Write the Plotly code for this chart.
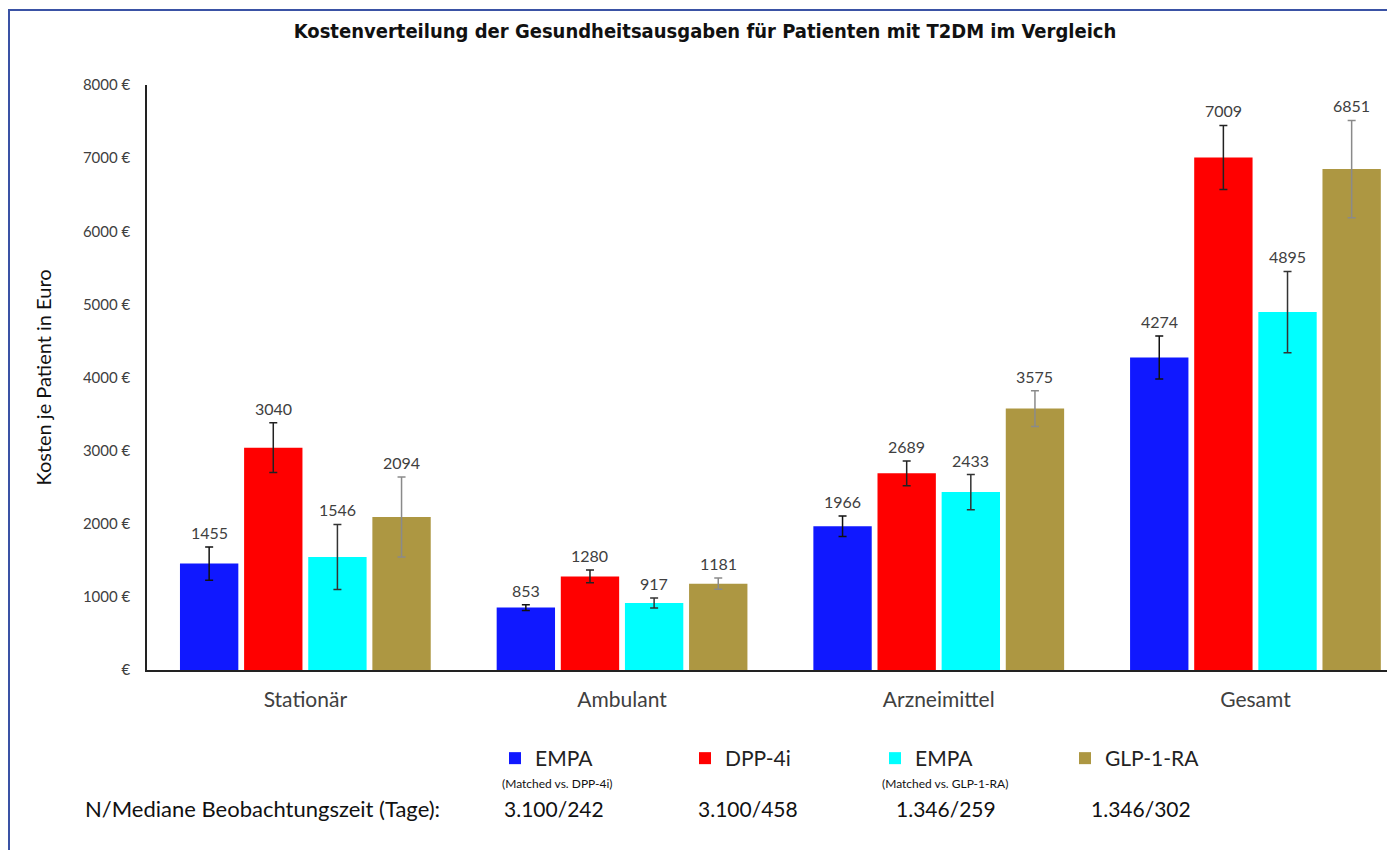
import plotly.graph_objects as go

categories = ["Stationär", "Ambulant", "Arzneimittel", "Gesamt"]
series_names = ["EMPA", "DPP-4i", "EMPA", "GLP-1-RA"]
series_sub = ["(Matched vs. DPP-4i)", "", "(Matched vs. GLP-1-RA)", ""]
empa_dpp = [1455, 853, 1966, 4274]
dpp4i = [3040, 1280, 2689, 7009]
empa_glp = [1546, 917, 2433, 4895]
glp1ra = [2094, 1181, 3575, 6851]
err_empa_dpp = [226, 39, 140, 295]
err_dpp4i = [340, 87, 170, 438]
err_empa_glp = [445, 68, 240, 555]
err_glp1ra = [547, 78, 245, 665]
n_labels = ["3.100/242", "3.100/458", "1.346/259", "1.346/302"]
y_ticks = [0, 1000, 2000, 3000, 4000, 5000, 6000, 7000, 8000]
y_ticktext = ["€"] + [f"{v} €" for v in y_ticks[1:]]

values = [empa_dpp, dpp4i, empa_glp, glp1ra]
errors = [err_empa_dpp, err_dpp4i, err_empa_glp, err_glp1ra]
colors = ["#1018FF", "#FF0000", "#00FFFF", "#AD9742"]
err_colors = ["#111111", "#222222", "#333333", "#8a8a8a"]

W, H = 1395, 850
OFF = 8  # page body margin
ML, MR, MT, MB = 139, 10, 77, 188
PW, PH = W - ML - MR, H - MT - MB
BARGAP = 0.19
FONT = "Lato, 'Open Sans', sans-serif"


def px_x(px):
    return (px - OFF - ML) / PW


def px_y(py):
    return (H - MB - (py - OFF)) / PH


fig = go.Figure()
for i in range(4):
    fig.add_trace(go.Bar(
        x=categories, y=values[i], name=series_names[i],
        marker=dict(color=colors[i], line=dict(width=0)),
        error_y=dict(type="data", array=errors[i], visible=True,
                     color=err_colors[i], thickness=1.5, width=4),
    ))

annotations = []
slot = (1 - BARGAP) / 4
for i in range(4):
    for j in range(4):
        xpos = j - (1 - BARGAP) / 2 + slot * (i + 0.5)
        annotations.append(dict(
            x=xpos, y=values[i][j] + errors[i][j], xref="x", yref="y",
            text=str(values[i][j]), showarrow=False, yanchor="bottom",
            yshift=3, font=dict(family=FONT, size=16, color="#404040"),
        ))

sub_x = [557, None, 945, None]
for i, s in enumerate(series_sub):
    if s:
        annotations.append(dict(
            x=px_x(sub_x[i]), y=px_y(783), xref="paper", yref="paper",
            text=s, showarrow=False, xanchor="center", yanchor="middle",
            font=dict(family="'Liberation Sans Narrow', " + FONT, size=12, color="#111111"),
        ))

annotations.append(dict(
    x=px_x(262), y=px_y(808), xref="paper", yref="paper",
    text="N/Mediane Beobachtungszeit (Tage):", showarrow=False,
    xanchor="center", yanchor="middle",
    font=dict(family=FONT, size=22, color="#111111"),
))
n_x = [554, 748, 946, 1141]
for i, t in enumerate(n_labels):
    annotations.append(dict(
        x=px_x(n_x[i]), y=px_y(808), xref="paper", yref="paper",
        text=t, showarrow=False, xanchor="center", yanchor="middle",
        font=dict(family=FONT, size=21, color="#111111"),
    ))

fig.update_layout(
    width=W, height=H,
    margin=dict(l=ML, r=MR, t=MT, b=MB),
    paper_bgcolor="white", plot_bgcolor="white",
    barmode="group", bargap=BARGAP, bargroupgap=0.09,
    title=dict(
        text="<b>Kostenverteilung der Gesundheitsausgaben für Patienten mit T2DM im Vergleich</b>",
        x=(705 - OFF) / W, xanchor="center", y=1 - (31 - OFF) / H, yanchor="middle", yref="container",
        font=dict(family="'DejaVu Sans Condensed', 'DejaVu Sans', sans-serif", size=20, color="#111111"),
    ),
    showlegend=True,
    legend=dict(
        orientation="h", x=px_x(495), xanchor="left", y=px_y(738), yanchor="top",
        entrywidth=145, entrywidthmode="pixels", itemwidth=30,
        font=dict(family=FONT, size=21, color="#222222"),
        bgcolor="rgba(0,0,0,0)", tracegroupgap=0,
    ),
    xaxis=dict(
        range=[-0.5, -0.5 + PW / 316.7], showgrid=False, zeroline=False,
        showline=True, linecolor="#222222", linewidth=1.5,
        ticks="", tickfont=dict(family=FONT, size=21, color="#404040"),
        ticklabelstandoff=10,
    ),
    yaxis=dict(
        range=[0, 8000], tickvals=y_ticks, ticktext=y_ticktext,
        showgrid=False, zeroline=False, showline=True, linecolor="#222222",
        linewidth=1.5, ticks="", ticklabelstandoff=12,
        tickfont=dict(family=FONT, size=15, color="#404040"),
        title=dict(text="Kosten je Patient in Euro", standoff=26,
                   font=dict(family=FONT, size=20, color="#111111")),
    ),
    annotations=annotations,
    shapes=[dict(
        type="rect", xref="paper", yref="paper",
        x0=px_x(9), x1=px_x(W + 40), y0=px_y(H + 40), y1=px_y(10),
        line=dict(color="#3a52a5", width=2), fillcolor="rgba(0,0,0,0)", layer="below",
    )],
)

fig.write_html("out.html")
